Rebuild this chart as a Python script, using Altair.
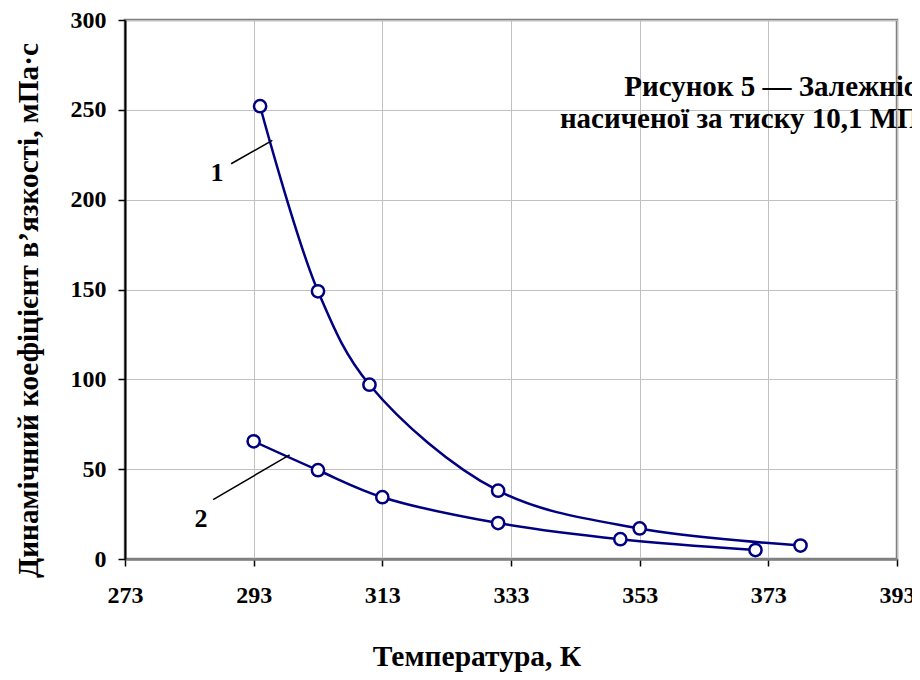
import altair as alt
import pandas as pd

# ---- data ----
temp_1 = [294, 303, 311, 331, 353, 378]
visc_1 = [252, 149, 97, 38, 17, 7.5]
temp_2 = [293, 303, 313, 331, 350, 371]
visc_2 = [65.5, 49.4, 34.4, 20, 11, 5]
series_names = ["1", "2"]

x_ticks = [273, 293, 313, 333, 353, 373, 393]
y_ticks = [0, 50, 100, 150, 200, 250, 300]

# annotation anchors (data units)
label_text = ["1", "2"]
label_temp = [287.3, 284.8]
label_visc = [215, 22]
leader_temp = [289.5, 286.7]
leader_visc = [220, 33]
leader_temp2 = [295.9, 298.6]
leader_visc2 = [233, 58]

title_lines = ["Рисунок 5 — Залежність", "насиченої за тиску 10,1 МПа"]
title_temp = [350.6, 340.6]
title_visc = [257.8, 240]

FONT = "Liberation Serif"
NAVY = "#000080"

df = pd.DataFrame({
    "T": temp_1 + temp_2,
    "mu": visc_1 + visc_2,
    "s": [series_names[0]] * len(temp_1) + [series_names[1]] * len(temp_2),
})
lab_df = pd.DataFrame({"t": label_text, "x": label_temp, "y": label_visc})
lead_df = pd.DataFrame({"x": leader_temp, "y": leader_visc, "x2": leader_temp2, "y2": leader_visc2})
tit_df = pd.DataFrame({"t": title_lines, "x": title_temp, "y": title_visc})

xscale = alt.Scale(domain=[273, 393], nice=False, zero=False)
yscale = alt.Scale(domain=[0, 300], nice=False)

xaxis = alt.Axis(values=x_ticks, grid=True, gridColor="#c0c0c0", gridWidth=1,
                 domainColor="#808080", domainWidth=2.5, tickColor="black", tickSize=7,
                 tickWidth=1.5, labelFont=FONT, labelFontWeight="bold", labelFontSize=24,
                 labelColor="black", labelPadding=17, title="Температура, К",
                 titleFont=FONT, titleFontWeight="bold", titleFontSize=29.5,
                 titleColor="black", titleX=351.5, titleY=106,
                 titleBaseline="alphabetic", labelFlush=False)
yaxis = alt.Axis(values=y_ticks, grid=True, gridColor="#c0c0c0", gridWidth=1,
                 domainColor="black", domainWidth=2, tickColor="black", tickSize=7,
                 tickWidth=1.5, labelFont=FONT, labelFontWeight="bold", labelFontSize=24,
                 labelColor="black", labelPadding=12,
                 title="Динамічний коефіцієнт в’язкості, мПа·с",
                 titleFont=FONT, titleFontWeight="bold", titleFontSize=29.3,
                 titleColor="black", titleX=-88, titleY=290,
                 titleBaseline="alphabetic", labelFlush=False)

base = alt.Chart(df)
lines = base.mark_line(color=NAVY, strokeWidth=2.5, interpolate="catmull-rom").encode(
    x=alt.X("T:Q", scale=xscale, axis=xaxis),
    y=alt.Y("mu:Q", scale=yscale, axis=yaxis),
    detail="s:N",
)
points = base.mark_point(shape="circle", filled=False, fill="white", fillOpacity=1,
                         color=NAVY, strokeWidth=2.5, size=150, opacity=1).encode(
    x="T:Q", y="mu:Q")

leaders = alt.Chart(lead_df).mark_rule(color="black", strokeWidth=1.5).encode(
    x="x:Q", y="y:Q", x2="x2:Q", y2="y2:Q")
labels = alt.Chart(lab_df).mark_text(font=FONT, fontWeight="bold", fontSize=26,
                                     color="black").encode(x="x:Q", y="y:Q", text="t:N")
titles = alt.Chart(tit_df).mark_text(font=FONT, fontWeight="bold", fontSize=29,
                                     color="black", align="left", baseline="alphabetic").encode(
    x="x:Q", y="y:Q", text="t:N")

chart = alt.layer(lines, leaders, points, labels, titles).properties(
    width=772, height=539,
    autosize=alt.AutoSizeParams(type="none"),
    padding={"left": 117, "top": 12, "right": 15, "bottom": 113},
    background="white",
).configure_view(stroke="#808080", strokeWidth=2.5)

chart.save("out.html", embed_options={"renderer": "svg", "actions": False})
